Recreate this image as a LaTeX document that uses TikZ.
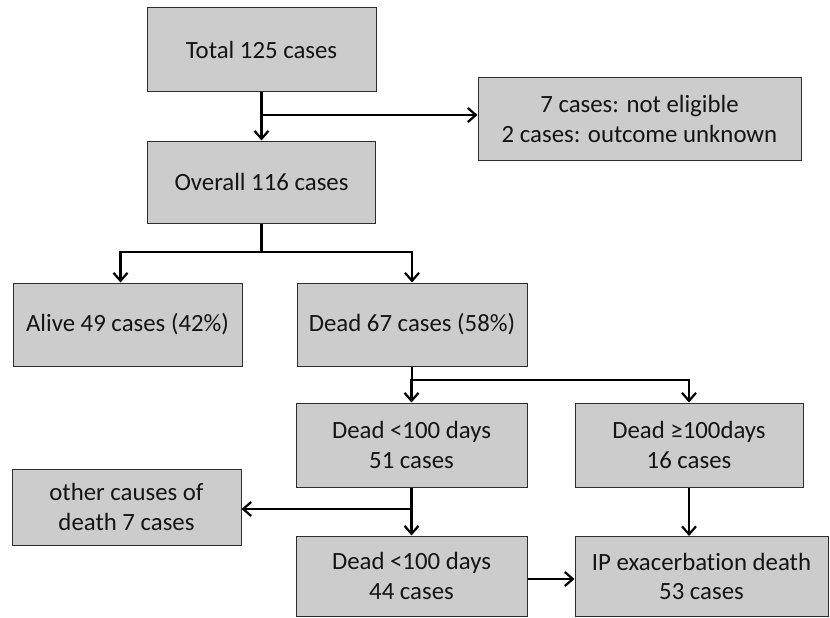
\documentclass[tikz,border=0pt]{standalone}
\usepackage{fontspec}
\setmainfont[Ligatures={NoCommon},RawFeature={-dlig;-calt}]{Carlito}
\usetikzlibrary{arrows.meta,calc}
\begin{document}
\begin{tikzpicture}[x=1pt,y=-1pt,
  box/.style={draw={rgb,255:red,45;green,45;blue,45},line width=1pt,
    fill={rgb,255:red,204;green,204;blue,204},inner sep=0pt,align=center,
    text={rgb,255:red,20;green,20;blue,20},
    font=\fontsize{24.8}{29.5}\selectfont},
  conn/.style={line width=2.4pt,black},
  arr/.style={conn,-{Straight Barb[length=8pt,width=14pt,line width=2.2pt]}}]
\useasboundingbox (0,0) rectangle (830,618);
\node[box,minimum width=229pt,minimum height=83pt] (total) at (261.5,49.5) {Total 125 cases};
\node[box,minimum width=323pt,minimum height=82pt] (excl) at (639.5,119) {7 cases: not eligible\\2 cases: outcome unknown};
\node[box,minimum width=228pt,minimum height=82pt] (overall) at (261.5,182) {Overall 116 cases};
\node[box,minimum width=229pt,minimum height=83pt] (alive) at (127.5,324.5) {Alive 49 cases (42\%)};
\node[box,minimum width=230pt,minimum height=83pt] (dead) at (412,324.5) {Dead 67 cases (58\%)};
\node[box,minimum width=231pt,minimum height=84pt] (d51) at (411.5,445) {Dead {<}100 days\\51 cases};
\node[box,minimum width=228pt,minimum height=84pt] (d16) at (689,445) {Dead ≥100days\\16 cases};
\node[box,minimum width=229pt,minimum height=76pt] (other) at (126.5,507) {other causes of\\death 7 cases};
\node[box,minimum width=231pt,minimum height=80pt] (d44) at (411.5,576) {Dead {<}100 days\\44 cases};
\node[box,minimum width=253pt,minimum height=80pt] (ip) at (701.5,576.5) {IP exacerbat\kern0pt ion death\\53 cases};
% connectors
\coordinate (b1) at (261.5,115);
\draw[arr] (total.south) -- (overall.north);
\draw[arr] (b1) -- (b1 -| excl.west);
\coordinate (b2) at (261.5,252);
\coordinate (aliveTop) at ($(alive.north)+(-7,0)$);
\draw[conn] (overall.south) -- (b2);
\draw[arr] (b2) -| (aliveTop);
\draw[arr] (b2) -| (dead.north);
\coordinate (b3) at (412,380);
\draw[conn] (dead.south) -- (b3);
\draw[arr] (b3) -| (d51.north);
\draw[arr] (b3) -| (d16.north);
\draw[arr] (d51.south) -- (d44.north);
\coordinate (b4) at (412,509);
\draw[arr] (b4) -- (b4 -| other.east);
\coordinate (d16b) at (d16.south);
\draw[arr] (d16b) -- (d16b |- ip.north);
\coordinate (b5) at (d44.east |- 0,579);
\draw[arr] (b5) -- (b5 -| ip.west);
\end{tikzpicture}
\end{document}
